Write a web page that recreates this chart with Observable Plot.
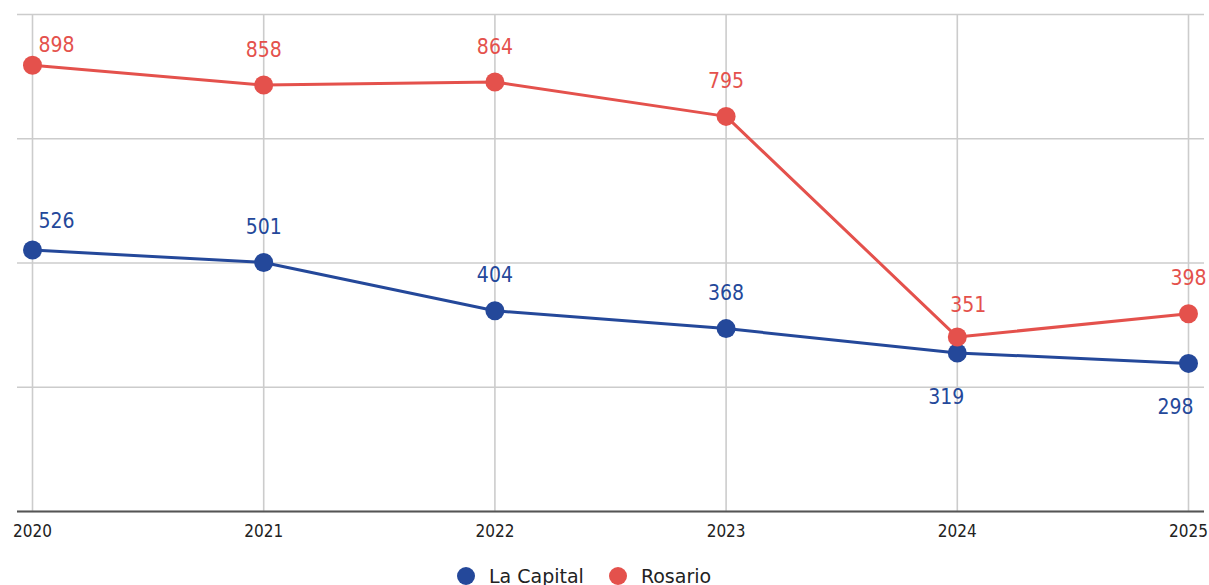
<!DOCTYPE html>
<html>
<head>
<meta charset="utf-8">
<script src="https://cdn.jsdelivr.net/npm/d3@7"></script>
<script src="https://cdn.jsdelivr.net/npm/@observablehq/plot@0.6"></script>
<style>
  html, body { margin: 0; padding: 0; background: #fff; overflow: hidden; }
  #chart svg { display: block; }
  .legend {
    display: flex; align-items: center; margin-top: 14px; padding-left: 457px;
    font-family: "DejaVu Sans", sans-serif; font-size: 19px; color: #222;
    line-height: 20px; white-space: nowrap;
  }
  .legend .item { display: flex; align-items: center; margin-right: 25px; }
  .legend .swatch { width: 18px; height: 18px; border-radius: 50%; margin-right: 14px; }
</style>
</head>
<body>
<div id="chart"></div>
<div class="legend" id="legend"></div>
<script>
// Yearly values for the two departments
const years = [2020, 2021, 2022, 2023, 2024, 2025];
const series = ["La Capital", "Rosario"];
const laCapital = [526, 501, 404, 368, 319, 298];
const rosario = [898, 858, 864, 795, 351, 398];
const yTicks = [0, 250, 500, 750, 1000];
const colors = ["#24489a", "#e4514c"];

const rows = [
  ...years.map((year, i) => ({series: series[0], year, value: laCapital[i]})),
  ...years.map((year, i) => ({series: series[1], year, value: rosario[i]}))
];

// Label placement: default is centered above the point
const defaultPlacement = {dx: 0, dy: -35, textAnchor: "middle"};
const placement = {
  "Rosario 2020": {dx: 6, dy: -20, textAnchor: "start"},
  "La Capital 2020": {dx: 6, dy: -29, textAnchor: "start"},
  "Rosario 2024": {dx: 11, dy: -32, textAnchor: "middle"},
  "La Capital 2024": {dx: -11, dy: 44, textAnchor: "middle"},
  "La Capital 2025": {dx: -13, dy: 44, textAnchor: "middle"}
};
const placeOf = d => placement[`${d.series} ${d.year}`] || defaultPlacement;
const groups = d3.groups(rows, d => JSON.stringify(placeOf(d)));

const labelFont = `"DejaVu Sans Condensed", "DejaVu Sans", sans-serif`;

const chart = Plot.plot({
  width: 1209,
  height: 552,
  marginTop: 14,
  marginBottom: 41,
  marginLeft: 17,
  marginRight: 5,
  style: {fontFamily: labelFont, background: "#fff"},
  x: {domain: [2020, 2025], insetLeft: 15, insetRight: 16, ticks: years, tickFormat: "d", label: null},
  y: {domain: [0, 1000], axis: null},
  color: {domain: series, range: colors},
  marks: [
    Plot.gridY(yTicks, {stroke: "#cccccc", strokeOpacity: 1, strokeWidth: 1.6}),
    Plot.gridX(years, {stroke: "#cccccc", strokeOpacity: 1, strokeWidth: 1.6}),
    Plot.axisX(years, {tickSize: 0, tickPadding: 13, fontSize: 17, fill: "#222", tickFormat: "d", label: null}),
    Plot.ruleY([0], {stroke: "#555", strokeWidth: 2}),
    Plot.line(rows, {x: "year", y: "value", z: "series", stroke: "series", strokeWidth: 3}),
    Plot.dot(rows, {x: "year", y: "value", fill: "series", r: 9.5}),
    ...groups.map(([key, data]) => {
      const p = JSON.parse(key);
      return Plot.text(data, {
        x: "year", y: "value", text: d => String(d.value), fill: "series",
        dx: p.dx, dy: p.dy, textAnchor: p.textAnchor, fontSize: 21, fontFamily: labelFont
      });
    })
  ]
});
document.getElementById("chart").append(chart);

// Legend below the chart
const legend = document.getElementById("legend");
series.forEach((name, i) => {
  const item = document.createElement("div");
  item.className = "item";
  const sw = document.createElement("span");
  sw.className = "swatch";
  sw.style.background = colors[i];
  const label = document.createElement("span");
  label.textContent = name;
  item.append(sw, label);
  legend.append(item);
});
</script>
</body>
</html>
